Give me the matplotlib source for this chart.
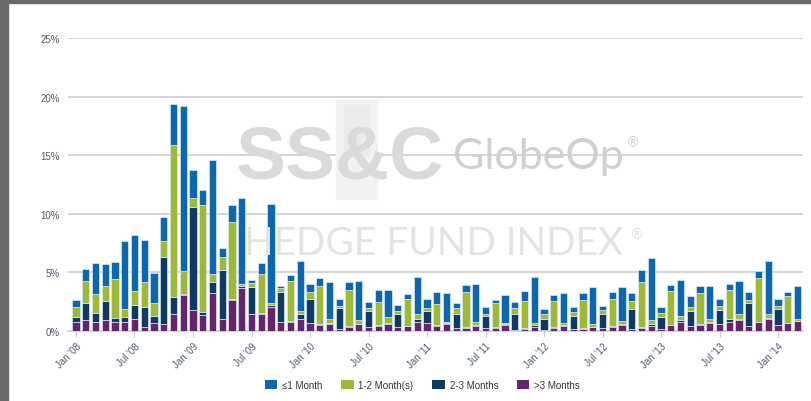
import matplotlib
matplotlib.use('Agg')
import matplotlib.pyplot as plt
import numpy as np
from matplotlib.patches import Rectangle

plt.rcParams['font.family'] = ['Liberation Sans', 'DejaVu Sans']

# Monthly bars Jan '08 .. Mar '14, values in % (segment heights)
months = [f"{m} '{y:02d}" for y in range(8, 15) for m in
          ['Jan', 'Feb', 'Mar', 'Apr', 'May', 'Jun', 'Jul', 'Aug', 'Sep', 'Oct', 'Nov', 'Dec']][:75]

over3 = [0.80, 0.91, 0.80, 0.91, 0.74, 0.74, 1.00, 0.34, 0.66, 0.57,
         1.46, 3.03, 1.83, 1.37, 3.26, 1.00, 2.63, 3.71, 1.46, 1.46,
         2.06, 0.80, 0.80, 1.06, 0.70, 0.54, 0.60, 0.20, 0.38, 0.57,
         0.37, 0.43, 0.63, 0.31, 0.40, 0.80, 0.71, 0.43, 0.63, 0.23,
         0.26, 0.43, 0.23, 0.26, 0.49, 0.05, 0.17, 0.31, 0.09, 0.23,
         0.40, 0.14, 0.20, 0.31, 0.29, 0.34, 0.49, 0.14, 0.29, 0.43,
         0.14, 0.49, 0.74, 0.46, 0.54, 0.71, 0.63, 0.80, 0.97, 0.46,
         0.74, 1.06, 0.54, 0.66, 0.83]
m2_3 = [0.43, 1.52, 0.74, 1.66, 0.35, 0.49, 1.20, 1.72, 0.60, 5.74,
        1.40, 0.14, 8.74, 0.29, 0.94, 4.17, 0.06, 0.15, 2.31, 0.05,
        0.14, 2.55, 0.06, 0.37, 2.00, 0.06, 0.09, 1.77, 0.07, 0.03,
        1.34, 0.06, 0.06, 1.12, 0.06, 0.20, 1.00, 0.08, 0.06, 1.23,
        0.05, 0.08, 1.06, 0.05, 0.11, 1.44, 0.05, 0.20, 0.94, 0.08,
        0.11, 1.12, 0.06, 0.06, 1.14, 0.09, 0.14, 1.77, 0.05, 0.20,
        1.09, 0.05, 0.17, 1.28, 0.09, 0.06, 1.17, 0.20, 0.03, 1.94,
        0.03, 0.08, 1.37, 0.05, 0.06]
m1_2 = [0.83, 1.86, 1.63, 1.26, 3.34, 0.68, 1.20, 2.14, 1.11, 1.38,
        13.05, 1.92, 0.80, 9.05, 0.66, 1.12, 6.57, 0.14, 0.32, 3.35,
        0.15, 0.29, 3.41, 0.29, 0.60, 3.20, 0.31, 0.13, 3.05, 0.32,
        0.23, 2.02, 0.51, 0.28, 2.28, 0.43, 0.29, 1.83, 0.11, 0.54,
        3.00, 0.29, 0.17, 2.06, 0.11, 0.45, 2.36, 0.14, 0.40, 2.23,
        0.15, 0.34, 2.40, 0.23, 0.34, 2.31, 0.20, 0.69, 3.83, 0.28,
        0.28, 2.89, 0.40, 0.32, 2.63, 0.29, 0.37, 2.46, 0.49, 0.23,
        3.72, 0.32, 0.26, 2.29, 0.17]
m1 = [0.60, 1.02, 2.66, 1.91, 1.46, 5.75, 4.77, 3.54, 2.57, 2.00,
      3.46, 14.14, 2.37, 1.32, 9.77, 0.80, 1.51, 7.37, 0.22, 0.98,
      8.52, 0.24, 0.51, 4.23, 0.75, 0.75, 3.20, 0.66, 0.68, 3.38,
      0.57, 0.95, 2.26, 0.52, 0.43, 3.17, 0.71, 0.97, 2.43, 0.43,
      0.60, 3.20, 0.63, 0.26, 2.38, 0.55, 0.80, 3.93, 0.44, 0.57,
      2.54, 0.43, 0.60, 3.14, 0.40, 0.60, 2.91, 0.60, 1.03, 5.35,
      0.52, 0.51, 3.03, 0.91, 0.54, 2.80, 0.52, 0.57, 2.77, 0.71,
      0.62, 4.48, 0.52, 0.34, 2.74]

series = [('>3 Months', over3, '#66236e'),
          ('2-3 Months', m2_3, '#0f3a62'),
          ('1-2 Month(s)', m1_2, '#9dba34'),
          ('\u22641 Month', m1, '#0b67ae')]

fig = plt.figure(figsize=(8.12, 4.02), dpi=100)
ax = fig.add_axes([68 / 812, 70 / 402, 735 / 812, 293 / 402])

# dark frame at top / left
fig.patches.append(Rectangle((0, 1 - 4 / 402), 1, 4 / 402, transform=fig.transFigure,
                             color='#6a6a6a', zorder=0))
fig.patches.append(Rectangle((0, 0), 8 / 812, 1, transform=fig.transFigure,
                             color='#6a6a6a', zorder=0))

x = np.arange(len(months))
bottom = np.zeros(len(months))
handles = {}
for name, vals, col in series:
    vals = np.array(vals)
    b = ax.bar(x, vals, width=0.76, bottom=bottom, color=col,
               edgecolor='#dce8f3', linewidth=0.5, zorder=3)
    handles[name] = b
    bottom += vals

# watermark
ax.add_patch(Rectangle((0.365, 0.45), 0.055, 0.34, transform=ax.transAxes,
                       color='#f2f2f2', zorder=1))
ax.add_patch(Rectangle((0.375, 0.60), 0.035, 0.17, transform=ax.transAxes,
                       color='#ebebeb', zorder=1))
fig.text(0.290, 0.555, 'SS&C', fontsize=54, fontweight='bold', color='#dadada',
         family='Liberation Sans', zorder=1)
fig.text(0.558, 0.580, 'GlobeOp', fontsize=31, color='#d0d0d0', family='Lato',
         zorder=1)
fig.text(0.773, 0.635, '\u00ae', fontsize=10, color='#cbcbcb', zorder=1)
fig.text(0.300, 0.365, 'HEDGE FUND INDEX', fontsize=28, color='#e3e3e3',
         family='Lato', zorder=1)
fig.text(0.778, 0.405, '\u00ae', fontsize=10, color='#dcdcdc', zorder=1)

ax.set_xlim(-0.82, 74.56)
ax.set_ylim(0, 25)
ax.set_yticks(np.arange(0, 26, 5))
ax.set_yticklabels([f'{v}%' for v in range(0, 26, 5)])
ax.yaxis.grid(True, color='#d2d2d2', linewidth=1.3, zorder=0)
ax.set_axisbelow(True)

ticks = x[::6]
ax.set_xticks(ticks)
ax.set_xticklabels([months[i] for i in ticks], rotation=45, ha='right',
                   va='top', rotation_mode='anchor')

for s in ['top', 'left', 'right']:
    ax.spines[s].set_visible(False)
ax.spines['bottom'].set_color('#c0d0e0')
ax.spines['bottom'].set_linewidth(1.2)
ax.tick_params(axis='y', length=0, labelsize=7, labelcolor='#4d5566', pad=6)
ax.tick_params(axis='x', length=4, color='#c0d0e0', labelsize=7,
               labelcolor='#4d5b70', pad=3)

order = ['\u22641 Month', '1-2 Month(s)', '2-3 Months', '>3 Months']
leg = fig.legend([handles[k] for k in order], order, loc='center',
                 bbox_to_anchor=(0.52, 0.04), ncol=4, frameon=False,
                 fontsize=7, handlelength=1.3, handleheight=1.0,
                 columnspacing=1.9, handletextpad=0.5)
for t in leg.get_texts():
    t.set_color('#333333')
for h in leg.legend_handles:
    h.set_edgecolor('none')

fig.savefig('out.png', dpi=100)
